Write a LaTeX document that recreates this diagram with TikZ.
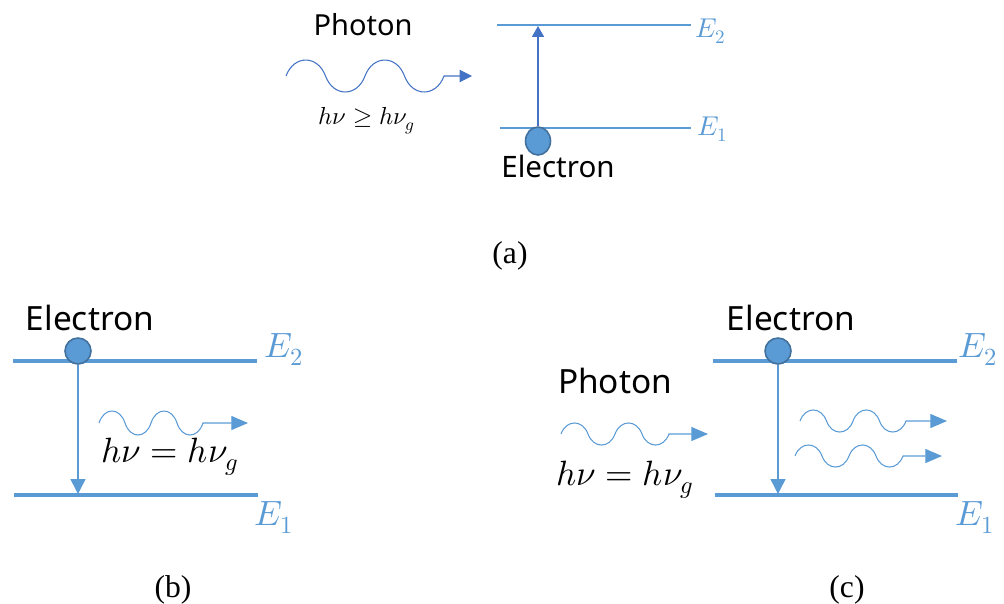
\documentclass[tikz,border=0pt]{standalone}
\usepackage{fontspec}
\usepackage{unicode-math}
\setmainfont{Liberation Serif}
\setmathfont{Latin Modern Math}
\newfontfamily\uifont{Noto Sans}
\usetikzlibrary{arrows.meta,shapes.geometric}

\definecolor{levelblue}{HTML}{5B9BD5}
\definecolor{arrowblue}{HTML}{4472C4}
\definecolor{rimblue}{HTML}{41719C}

% a photon: four half-arches (up, down, up, down), then a straight run to the tip
% #3 = half period, #4 = 4/3 of the amplitude, #5 = tip
\newcommand{\photon}[5][]{%
  \draw[wave,#1] (#2)
    .. controls +(0.2*#3,-#4) and +(-0.2*#3,-#4) .. ++(#3,0)
    .. controls +(0.2*#3,#4) and +(-0.2*#3,#4) .. ++(#3,0)
    .. controls +(0.2*#3,-#4) and +(-0.2*#3,-#4) .. ++(#3,0)
    .. controls +(0.2*#3,#4) and +(-0.2*#3,#4) .. ++(#3,0) -- (#5);}

\tikzset{
  energy/.style={levelblue, line width=2pt},
  wave/.style={levelblue, line width=0.6pt, -{Triangle[length=9.5pt,width=8pt]}},
  electron/.style={circle, fill=levelblue, draw=rimblue, line width=0.9pt,
    minimum size=0.52cm, inner sep=0pt},
  transition/.style={levelblue, line width=0.8pt, -{Triangle[length=8.5pt,width=8.5pt]}},
  sanslabel/.style={font=\uifont\fontsize{19}{22}\selectfont, inner sep=0pt, anchor=base},
  mathlabel/.style={font=\fontsize{20}{24}\selectfont, inner sep=0pt, anchor=base},
  elabel/.style={levelblue, font=\fontsize{20}{24}\selectfont, inner sep=0pt, anchor=base west},
  caption/.style={font=\fontsize{18}{21}\selectfont, inner sep=0pt, anchor=base},
}

\begin{document}
\begin{tikzpicture}[x=0.02cm,y=-0.02cm]
  \useasboundingbox (0,0) rectangle (1004,603);

  % (a) absorption: E1 -> E2
  \coordinate (a2l) at (497,25);
  \coordinate (a2r) at (691,25);
  \coordinate (a1l) at (500,128);
  \coordinate (a1r) at (691,128);
  \draw[energy,line width=1.6pt] (a2l) -- (a2r);
  \draw[energy,line width=1.6pt] (a1l) -- (a1r);
  \node[elabel,font=\fontsize{15.5}{18}\selectfont] (a2) at (695,37) {$E_2$};
  \node[elabel,font=\fontsize{15.5}{18}\selectfont] (a1) at (697,135) {$E_1$};

  \node[electron,ellipse,minimum width=0.5cm,minimum height=0.56cm] (ea) at (538,141) {};
  \coordinate (ea top) at (538,26);
  \draw[transition,arrowblue,-{Triangle[length=6.2pt,width=6.8pt]}] (ea.north) -- (ea top);

  % incoming photon
  \coordinate (pa) at (286,76);
  \coordinate (pa tip) at (472,76);
  \photon[arrowblue,-{Triangle[length=7pt,width=7pt]}]{pa}{39.5}{21.3}{pa tip}

  \node[sanslabel,font=\uifont\fontsize{16.5}{19}\selectfont] (pha) at (363,35) {Photon};
  \node[mathlabel,font=\fontsize{14}{16}\selectfont] (hva) at (367,124) {$h\nu \geq h\nu_g$};
  \node[sanslabel,font=\uifont\fontsize{16.8}{19}\selectfont] (ela) at (558,177) {Electron};
  \node[caption] (capa) at (510,263) {(a)};

  % (b) spontaneous emission: E2 -> E1
  \coordinate (b2l) at (13,361);
  \coordinate (b2r) at (257,361);
  \coordinate (b1l) at (14,495);
  \coordinate (b1r) at (258,495);
  \draw[energy] (b2l) -- (b2r);
  \draw[energy] (b1l) -- (b1r);
  \node[elabel] (b2) at (264,357) {$E_2$};
  \node[elabel] (b1) at (254,525) {$E_1$};

  \node[electron] (eb) at (78,351) {};
  \coordinate (eb bottom) at (78,494);
  \draw[transition] (eb.south) -- (eb bottom);

  % emitted photon
  \coordinate (pb) at (99,423);
  \coordinate (pb tip) at (248,423);
  \photon{pb}{26}{16}{pb tip}

  \node[sanslabel] (elb) at (90,330) {Electron};
  \node[mathlabel] (hvb) at (170,462) {$h\nu = h\nu_g$};
  \node[caption] (capb) at (173,597) {(b)};

  % (c) stimulated emission: one photon in, two out
  \coordinate (c2l) at (713,361);
  \coordinate (c2r) at (957,361);
  \coordinate (c1l) at (715,495);
  \coordinate (c1r) at (958,495);
  \draw[energy] (c2l) -- (c2r);
  \draw[energy] (c1l) -- (c1r);
  \node[elabel] (c2) at (958,357) {$E_2$};
  \node[elabel] (c1) at (955,525) {$E_1$};

  \node[electron] (ec) at (778,351) {};
  \coordinate (ec bottom) at (778,494);
  \draw[transition] (ec.south) -- (ec bottom);

  % incoming photon
  \coordinate (pc) at (561,434);
  \coordinate (pc tip) at (708,434);
  \photon{pc}{27}{14.7}{pc tip}

  % two outgoing photons
  \coordinate (qc) at (800,421);
  \coordinate (qc tip) at (947,421);
  \photon{qc}{26.5}{14.7}{qc tip}
  \coordinate (rc) at (795,456);
  \coordinate (rc tip) at (942,456);
  \photon{rc}{27}{14.7}{rc tip}

  \node[sanslabel] (phc) at (615,393) {Photon};
  \node[mathlabel] (hvc) at (625,485) {$h\nu = h\nu_g$};
  \node[sanslabel] (elc) at (791,330) {Electron};
  \node[caption] (capc) at (847,597) {(c)};
\end{tikzpicture}
\end{document}
